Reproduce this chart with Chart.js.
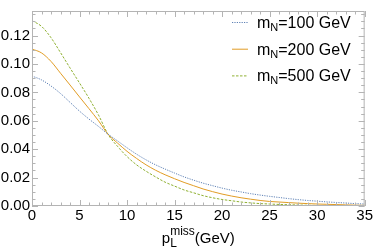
<!DOCTYPE html>
<html>
<head>
<meta charset="utf-8">
<script src="https://cdn.jsdelivr.net/npm/chart.js@4.4.1/dist/chart.umd.min.js"></script>
<style>
  html, body { margin: 0; padding: 0; background: #fff; }
  #wrap { width: 374px; height: 248px; position: relative; }
</style>
</head>
<body>
<div id="wrap"><canvas id="chart"></canvas></div>
<script>
// p_L^miss values (GeV)
const pMiss = [0, 1, 2, 3, 4, 5, 6, 7, 8, 9, 10, 11, 12, 13, 14, 15, 16, 17,
  18, 19, 20, 21, 22, 23, 24, 25, 26, 27, 28, 29, 30, 31, 32, 33, 34, 35];

// distributions
const mN100 = [0.0915, 0.0888, 0.0845, 0.0792, 0.0730, 0.0668, 0.0612, 0.0560, 0.0506,
  0.0458, 0.0410, 0.0365, 0.0325, 0.0290, 0.0260, 0.0232, 0.0205, 0.0182, 0.0161,
  0.0143, 0.0126, 0.0111, 0.0099, 0.0087, 0.0077, 0.0068, 0.0060, 0.0052, 0.0045,
  0.0039, 0.0034, 0.0029, 0.0025, 0.0021, 0.0017, 0.0014];
const mN200 = [0.1105, 0.1078, 0.1018, 0.0935, 0.0852, 0.0768, 0.0685, 0.0600, 0.0505,
  0.0443, 0.0385, 0.0335, 0.0290, 0.0252, 0.0220, 0.0192, 0.0166, 0.0143, 0.0120,
  0.0101, 0.0084, 0.0070, 0.0058, 0.0048, 0.0039, 0.0032, 0.0028, 0.0024, 0.0020,
  0.0017, 0.0014, 0.0012, 0.0010, 0.0008, 0.0006, 0.0005];
const mN500 = [0.1305, 0.1265, 0.1185, 0.1080, 0.0972, 0.0866, 0.0758, 0.0640, 0.0505,
  0.0420, 0.0348, 0.0290, 0.0245, 0.0205, 0.0168, 0.0140, 0.0113, 0.0093, 0.0073,
  0.0058, 0.0046, 0.0037, 0.0028, 0.0022, 0.0017, 0.0014, 0.0011, 0.0009, 0.0007,
  0.0005, 0.0004, 0.0003, 0.0003, 0.0002, 0.0002, 0.0002];

const legendMasses = ['100', '200', '500'];
const colors = ['#5e81b5', '#e19c24', '#8fb032'];
const dashes = [[1.2, 1.2], [], [2.5, 1.5]];
const FRAME = '#b4b4b4';
const FONT = '"Liberation Sans", Arial, sans-serif';

function pairs(ys) {
  return pMiss.map((x, i) => ({ x: x, y: ys[i] }));
}

// frame + inward tick marks (Mathematica style)
const frameTicks = {
  id: 'frameTicks',
  afterDraw(chart) {
    const { ctx, chartArea: a, scales } = chart;
    ctx.save();
    ctx.strokeStyle = FRAME;
    ctx.lineWidth = 1;
    ctx.strokeRect(a.left + 0.5, a.top + 0.5, a.right - a.left - 1, a.bottom - a.top - 1);
    ctx.beginPath();
    for (let v = 0; v <= 35; v++) {
      const x = Math.round(scales.x.getPixelForValue(v)) + 0.5;
      const len = v % 5 === 0 ? 6 : 3.5;
      ctx.moveTo(x, a.bottom); ctx.lineTo(x, a.bottom - len);
      ctx.moveTo(x, a.top); ctx.lineTo(x, a.top + len);
    }
    for (let i = 0; i <= 27; i++) {
      const y = Math.round(scales.y.getPixelForValue(i * 0.005)) + 0.5;
      const len = i % 4 === 0 ? 6 : 3.5;
      ctx.moveTo(a.left, y); ctx.lineTo(a.left + len, y);
      ctx.moveTo(a.right, y); ctx.lineTo(a.right - len, y);
    }
    ctx.stroke();
    ctx.restore();
  }
};

// legend and axis title with sub/superscripts
const labels = {
  id: 'labels',
  afterDraw(chart) {
    const { ctx, chartArea: a } = chart;
    ctx.save();
    ctx.fillStyle = '#000';
    ctx.textBaseline = 'alphabetic';

    // legend
    legendMasses.forEach((m, i) => {
      const yLine = 22.5 + i * 26.7;
      ctx.strokeStyle = colors[i];
      ctx.lineWidth = 1;
      ctx.setLineDash(dashes[i]);
      ctx.beginPath();
      ctx.moveTo(232, yLine); ctx.lineTo(248, yLine);
      ctx.stroke();
      ctx.setLineDash([]);
      const base = yLine + 5.5;
      let x = 257;
      ctx.font = '16px ' + FONT;
      ctx.fillText('m', x, base); x += ctx.measureText('m').width;
      ctx.font = '11px ' + FONT;
      ctx.fillText('N', x, base + 3); x += ctx.measureText('N').width;
      ctx.font = '16px ' + FONT;
      ctx.fillText('=' + m + ' GeV', x, base);
    });

    // x axis title
    const parts = [
      { t: 'p', f: 15 },
      { t: 'L', f: 12 },
      { t: 'miss', f: 12 },
      { t: '(GeV)', f: 15 }
    ];
    parts.forEach(p => { ctx.font = p.f + 'px ' + FONT; p.w = ctx.measureText(p.t).width; });
    const total = parts[0].w + Math.max(parts[1].w, parts[2].w) + parts[3].w;
    let x = (a.left + a.right) / 2 - total / 2;
    const base = 243;
    ctx.font = '15px ' + FONT;
    ctx.fillText('p', x, base); x += parts[0].w;
    ctx.font = '12px ' + FONT;
    ctx.fillText('L', x, base + 4);
    ctx.fillText('miss', x, base - 8);
    x += Math.max(parts[1].w, parts[2].w);
    ctx.font = '15px ' + FONT;
    ctx.fillText('(GeV)', x, base);
    ctx.restore();
  }
};

const chart = new Chart(document.getElementById('chart'), {
  type: 'line',
  data: {
    datasets: [mN100, mN200, mN500].map((ys, i) => ({
      label: 'mN=' + legendMasses[i] + ' GeV',
      data: pairs(ys),
      borderColor: colors[i],
      borderWidth: 1,
      borderDash: dashes[i],
      pointRadius: 0,
      fill: false,
      cubicInterpolationMode: 'monotone'
    }))
  },
  options: {
    responsive: true,
    maintainAspectRatio: false,
    animation: false,
    layout: { padding: { top: 0, right: 9, left: 0, bottom: 0 } },
    plugins: { legend: { display: false }, tooltip: { enabled: false } },
    scales: {
      x: {
        type: 'linear', min: 0, max: 35,
        ticks: { stepSize: 5, color: '#000', font: { size: 15, family: FONT }, padding: 1, maxRotation: 0 },
        grid: { display: false, drawTicks: false },
        border: { display: false },
        afterFit(scale) { scale.height = 42; }
      },
      y: {
        min: 0, max: 0.1373,
        ticks: {
          stepSize: 0.02, includeBounds: false, color: '#000',
          font: { size: 15, family: FONT }, padding: 2,
          callback: v => v.toFixed(2)
        },
        grid: { display: false, drawTicks: false },
        border: { display: false },
        afterFit(scale) { scale.width = 32; }
      }
    }
  },
  plugins: [frameTicks, labels]
});
</script>
</body>
</html>
